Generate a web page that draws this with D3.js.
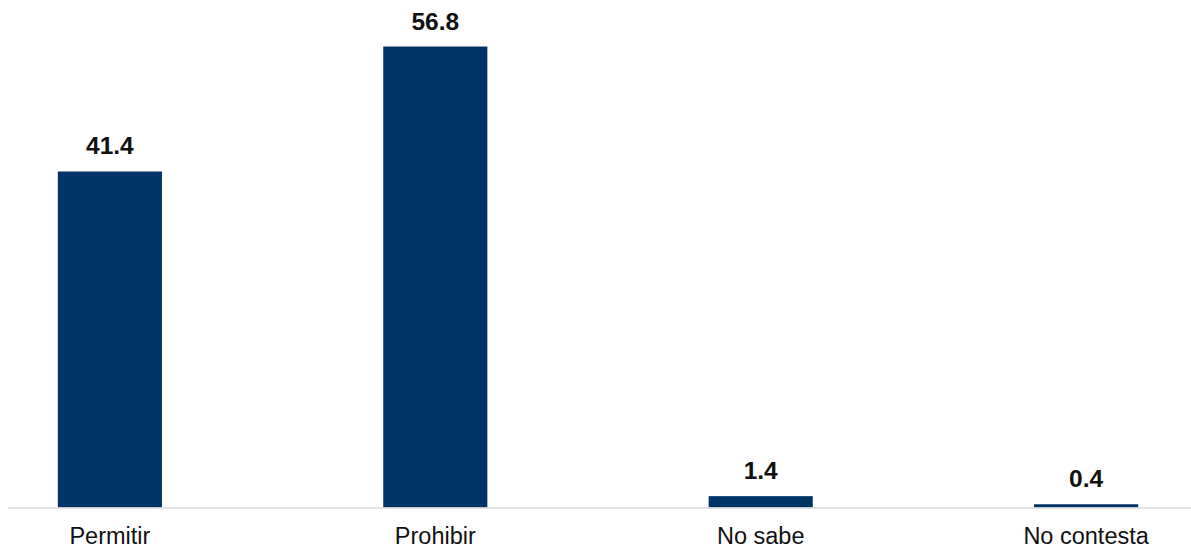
<!DOCTYPE html>
<html><head><meta charset="utf-8">
<script src="https://cdn.jsdelivr.net/npm/d3@7"></script>
<style>body{margin:0;background:#fff}svg{display:block}</style>
</head><body>
<svg id="c" width="1191" height="547"></svg>
<script>
const categories = ["Permitir", "Prohibir", "No sabe", "No contesta"];
const values = [41.4, 56.8, 1.4, 0.4];
const valueLabels = ["41.4", "56.8", "1.4", "0.4"];

const svg = d3.select("#c");
const baseY = 507.5;
const x = d3.scaleBand().domain(categories).range([10, 1186]).paddingInner(0.68).paddingOuter(0.147);
const y = d3.scaleLinear().domain([0, 60]).range([baseY, baseY - 8.116 * 60]);

svg.selectAll("rect.bar").data(values).join("rect")
  .attr("class", "bar")
  .attr("x", (d, i) => x(categories[i]))
  .attr("width", x.bandwidth())
  .attr("y", d => y(d))
  .attr("height", d => y(0) - y(d))
  .attr("fill", "#003366");

svg.append("line").attr("x1", 8).attr("x2", 1191).attr("y1", baseY + 0.5).attr("y2", baseY + 0.5)
  .attr("stroke", "#d9d9d9").attr("stroke-width", 1.5);

svg.selectAll("text.val").data(values).join("text")
  .attr("class", "val")
  .attr("x", (d, i) => x(categories[i]) + x.bandwidth() / 2)
  .attr("y", d => y(d) - 17)
  .attr("text-anchor", "middle")
  .attr("font-family", "Liberation Sans, Arial, sans-serif")
  .attr("font-weight", "bold")
  .attr("font-size", 24.5)
  .attr("fill", "#111")
  .text((d, i) => valueLabels[i]);

const xAxis = d3.axisBottom(x).tickSize(0).tickPadding(0);
const g = svg.append("g").attr("transform", `translate(0,${baseY})`).call(xAxis);
g.select(".domain").remove();
g.selectAll("text")
  .attr("dy", null)
  .attr("y", 36)
  .attr("font-family", "Liberation Sans, Arial, sans-serif")
  .attr("font-size", 23.5)
  .attr("fill", "#111");
</script>
</body></html>
